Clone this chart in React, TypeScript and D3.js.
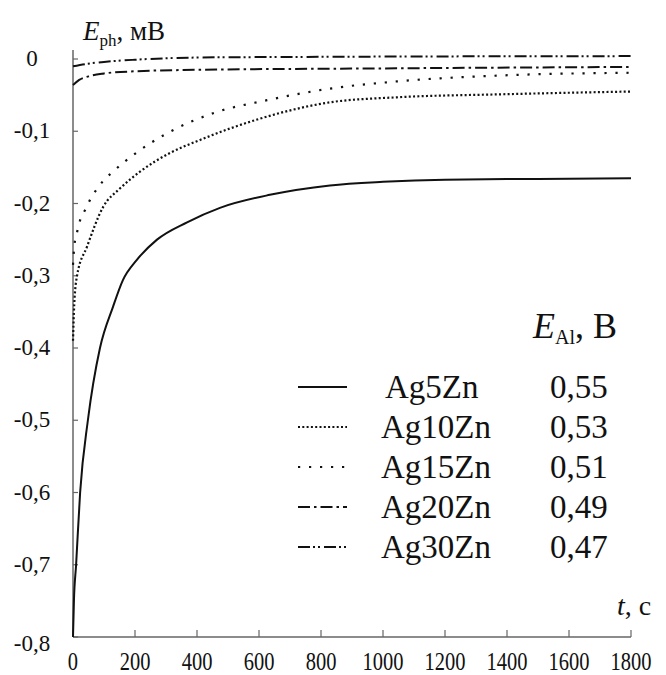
import React from 'react';
import * as d3 from 'd3';

// time, s
const ag5T = [0, 3, 10, 23, 48, 87, 129, 161, 206, 271, 368, 474, 635, 829, 1000, 1200, 1500, 1800];
const ag5V = [-0.8, -0.75, -0.7, -0.6, -0.5, -0.4, -0.343, -0.306, -0.278, -0.25, -0.226, -0.206, -0.188, -0.175, -0.17, -0.167, -0.166, -0.165];

const ag10T = [0, 4, 13, 45, 97, 152, 216, 313, 410, 600, 829, 1045, 1368, 1800];
const ag10V = [-0.39, -0.34, -0.3, -0.26, -0.205, -0.179, -0.156, -0.13, -0.112, -0.083, -0.06, -0.053, -0.049, -0.045];

const ag15T = [0, 4, 13, 23, 39, 55, 77, 97, 126, 210, 303, 452, 626, 829, 1045, 1368, 1800];
const ag15V = [-0.285, -0.26, -0.24, -0.223, -0.209, -0.195, -0.18, -0.169, -0.157, -0.128, -0.103, -0.075, -0.057, -0.041, -0.031, -0.023, -0.019];

const ag20T = [0, 20, 50, 100, 200, 400, 1000, 1800];
const ag20V = [-0.036, -0.029, -0.024, -0.02, -0.017, -0.015, -0.013, -0.011];

const ag30T = [0, 40, 100, 200, 400, 800, 1800];
const ag30V = [-0.01, -0.007, -0.004, -0.001, 0.002, 0.003, 0.004];

const seriesNames = ['Ag5Zn', 'Ag10Zn', 'Ag15Zn', 'Ag20Zn', 'Ag30Zn'];
const potentials = ['0,55', '0,53', '0,51', '0,49', '0,47'];

const xTicks = [0, 200, 400, 600, 800, 1000, 1200, 1400, 1600, 1800];
const yTicks = [0, -0.1, -0.2, -0.3, -0.4, -0.5, -0.6, -0.7, -0.8];

const FONT = "'Liberation Serif', 'Times New Roman', 'DejaVu Serif', serif";
const AXIS = '#666';

const styles = [
  { width: 2, dash: undefined },
  { width: 2.2, dash: '2,2.3' },
  { width: 2.2, dash: '2.2,8.8' },
  { width: 2, dash: '12,4,2.5,4' },
  { width: 2, dash: '12,3,2,3,2,4' },
];

export default function App() {
  const x = d3.scaleLinear().domain([0, 1800]).range([73, 631]);
  const y = d3.scaleLinear().domain([-0.8, 0]).range([637, 59]);

  const line = d3
    .line<[number, number]>()
    .x((d) => x(d[0]))
    .y((d) => y(d[1]))
    .curve(d3.curveMonotoneX);

  const series = [
    [ag5T, ag5V],
    [ag10T, ag10V],
    [ag15T, ag15V],
    [ag20T, ag20V],
    [ag30T, ag30V],
  ].map(([t, v]) => t.map((ti, i) => [ti, v[i]] as [number, number]));

  const fmt = (v: number) => (v === 0 ? '0' : v.toFixed(1).replace('.', ','));

  const legendY = (i: number) => 387 + i * 40;
  const txt = { fontFamily: FONT, fill: '#111' };

  return (
    <svg
      width={666}
      height={675}
      style={{ position: 'absolute', left: 0, top: 0, background: '#fff' }}
    >
      {/* axes */}
      <line x1={x(0)} x2={x(0)} y1={y(-0.8)} y2={50} stroke={AXIS} strokeWidth={1.5} />
      <line x1={x(0)} x2={x(1800)} y1={y(-0.8)} y2={y(-0.8)} stroke={AXIS} strokeWidth={1.5} />
      {yTicks.map((t) => (
        <g key={'y' + t}>
          <line x1={x(0)} x2={x(0) + 5} y1={y(t)} y2={y(t)} stroke={AXIS} strokeWidth={1.2} />
          <text
            x={32}
            y={y(t) + (t === -0.8 ? 14 : 7)}
            textAnchor="middle"
            fontSize={23}
            style={txt}
          >
            {fmt(t)}
          </text>
        </g>
      ))}
      {xTicks.map((t) => (
        <g key={'x' + t}>
          <line x1={x(t)} x2={x(t)} y1={y(-0.8)} y2={y(-0.8) - 7} stroke={AXIS} strokeWidth={1.2} />
          <text
            transform={`translate(${x(t)},670) scale(0.82,1)`}
            textAnchor="middle"
            fontSize={25}
            style={txt}
          >
            {t}
          </text>
        </g>
      ))}

      {/* axis titles */}
      <text x={83} y={40} fontSize={27} style={txt}>
        <tspan fontStyle="italic">E</tspan>
        <tspan fontSize={17} dy={6}>ph</tspan>
        <tspan dy={-6}>, мВ</tspan>
      </text>
      <text x={617} y={615} fontSize={28} style={txt}>
        <tspan fontStyle="italic">t</tspan>
        <tspan>, с</tspan>
      </text>

      {/* curves */}
      {series.map((pts, i) => (
        <path
          key={seriesNames[i]}
          d={line(pts) || ''}
          fill="none"
          stroke="#111"
          strokeWidth={styles[i].width}
          strokeDasharray={styles[i].dash}
        />
      ))}

      {/* legend */}
      <text x={533} y={338} fontSize={36} style={txt}>
        <tspan fontStyle="italic">E</tspan>
        <tspan fontSize={20} dy={6}>Al</tspan>
        <tspan dy={-6}>, В</tspan>
      </text>
      {seriesNames.map((name, i) => (
        <g key={'lg' + name}>
          <line
            x1={298}
            x2={347}
            y1={legendY(i)}
            y2={legendY(i)}
            stroke="#111"
            strokeWidth={styles[i].width}
            strokeDasharray={styles[i].dash}
          />
          <text x={i === 0 ? 385 : 381} y={legendY(i) + 11} fontSize={33} style={txt}>
            {name}
          </text>
          <text x={550} y={legendY(i) + 11} fontSize={33} style={txt}>
            {potentials[i]}
          </text>
        </g>
      ))}
    </svg>
  );
}
